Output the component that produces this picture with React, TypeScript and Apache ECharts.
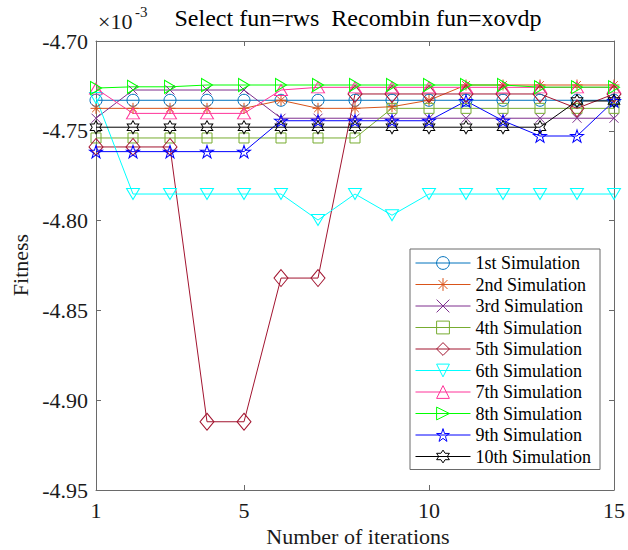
import { useEffect, useRef } from "react";
import * as echarts from "echarts";

// Iteration index on the horizontal axis
const iterations = [1, 2, 3, 4, 5, 6, 7, 8, 9, 10, 11, 12, 13, 14, 15];

// Best fitness per iteration, in units of 1e-3
const sim1 = [-4.733, -4.733, -4.733, -4.733, -4.733, -4.733, -4.733, -4.733, -4.733, -4.733, -4.733, -4.733, -4.733, -4.733, -4.733];
const sim2 = [-4.7375, -4.7375, -4.7375, -4.7375, -4.7375, -4.733, -4.7375, -4.7375, -4.7366, -4.733, -4.7245, -4.7245, -4.7245, -4.7245, -4.7245];
const sim3 = [-4.743, -4.7273, -4.7273, -4.7273, -4.7273, -4.743, -4.743, -4.743, -4.743, -4.743, -4.743, -4.743, -4.743, -4.743, -4.743];
const sim4 = [-4.754, -4.754, -4.754, -4.754, -4.754, -4.754, -4.754, -4.754, -4.7375, -4.7375, -4.7375, -4.7375, -4.7375, -4.7375, -4.7375];
const sim5 = [-4.759, -4.759, -4.759, -4.912, -4.912, -4.832, -4.832, -4.7295, -4.7295, -4.7295, -4.7295, -4.7295, -4.7295, -4.7375, -4.7295];
const sim6 = [-4.7317, -4.7852, -4.7852, -4.7852, -4.7852, -4.7852, -4.7997, -4.7852, -4.797, -4.7852, -4.7852, -4.7852, -4.7852, -4.7852, -4.7852];
const sim7 = [-4.7265, -4.7403, -4.7403, -4.7403, -4.7403, -4.7273, -4.7258, -4.7258, -4.7258, -4.7258, -4.7258, -4.7258, -4.7258, -4.7258, -4.7258];
const sim8 = [-4.7262, -4.7255, -4.7255, -4.7245, -4.7245, -4.7245, -4.7245, -4.7245, -4.7245, -4.7245, -4.7245, -4.7245, -4.7257, -4.7257, -4.7257];
const sim9 = [-4.7616, -4.7616, -4.7616, -4.7616, -4.7616, -4.7444, -4.7444, -4.7444, -4.7444, -4.7444, -4.7334, -4.7444, -4.7529, -4.7529, -4.7334];
const sim10 = [-4.748, -4.748, -4.748, -4.748, -4.748, -4.748, -4.748, -4.748, -4.748, -4.748, -4.748, -4.748, -4.748, -4.7334, -4.7334];

const seriesValues = [sim1, sim2, sim3, sim4, sim5, sim6, sim7, sim8, sim9, sim10];
const seriesNames = [
  "1st Simulation",
  "2nd Simulation",
  "3rd Simulation",
  "4th Simulation",
  "5th Simulation",
  "6th Simulation",
  "7th Simulation",
  "8th Simulation",
  "9th Simulation",
  "10th Simulation",
];

const xTicks = [1, 5, 10, 15];
const yTicks = [-4.95, -4.9, -4.85, -4.8, -4.75, -4.7];

const titleText = "Select fun=rws  Recombin fun=xovdp";
const xName = "Number of iterations";
const yName = "Fitness";

const SERIF = "Liberation Serif";
const AXIS = "#6a6a6a";
const TEXT = "#1a1a1a";

const colors = ["#0072BD", "#D95319", "#7E2F8E", "#77AC30", "#A2142F", "#00FFFF", "#FF3399", "#00FF00", "#0000FF", "#000000"];

// Marker shapes (hollow, outline only)
const ASTERISK = "path://M0,-1L0,1M-1,0L1,0M-0.7,-0.7L0.7,0.7M-0.7,0.7L0.7,-0.7";
const CROSS = "path://M-1,-1L1,1M-1,1L1,-1";
const TRI_DOWN = "path://M-1,-0.866L1,-0.866L0,0.866Z";
const TRI_RIGHT = "path://M-0.866,-1L0.866,0L-0.866,1Z";
const PENTAGRAM =
  "path://M0,-1L0.2245,-0.309L0.9511,-0.309L0.3633,0.118L0.5878,0.809L0,0.382L-0.5878,0.809L-0.3633,0.118L-0.9511,-0.309L-0.2245,-0.309Z";
const HEXAGRAM =
  "path://M0,-1L0.2887,-0.5L0.866,-0.5L0.577,0L0.866,0.5L0.2887,0.5L0,1L-0.2887,0.5L-0.866,0.5L-0.577,0L-0.866,-0.5L-0.2887,-0.5Z";

const symbols = ["circle", ASTERISK, CROSS, "rect", "diamond", TRI_DOWN, "triangle", TRI_RIGHT, PENTAGRAM, HEXAGRAM];
const symbolSizes: (number | number[])[] = [12, 11, 9, 10, [14, 17], [13, 11], [13, 11], [11, 13], [13, 12.4], [11.5, 13]];

export default function App() {
  const ref = useRef<HTMLDivElement>(null);

  useEffect(() => {
    if (!ref.current) return;
    const chart = echarts.init(ref.current, null, { renderer: "svg" });

    const axisCommon = {
      type: "value" as const,
      axisLine: { show: true, onZero: false, lineStyle: { color: AXIS, width: 1 } },
      splitLine: { show: false },
    };

    const series = seriesValues.map((vals, i) => ({
      type: "line" as const,
      name: seriesNames[i],
      data: iterations.map((x, j) => [x, vals[j]]),
      xAxisIndex: 0,
      yAxisIndex: 0,
      symbol: symbols[i],
      symbolSize: symbolSizes[i],
      showAllSymbol: true,
      lineStyle: { color: colors[i], width: 1 },
      itemStyle: { color: "rgba(0,0,0,0)", borderColor: colors[i], borderWidth: 1 },
      emphasis: { disabled: true },
      clip: false,
    }));

    chart.setOption({
      animation: false,
      backgroundColor: "#ffffff",
      textStyle: { fontFamily: SERIF },
      grid: { left: 96, top: 41, width: 524, height: 449, show: false },
      xAxis: [
        {
          ...axisCommon,
          min: 1,
          max: 15,
          position: "bottom",
          axisTick: { show: true, inside: true, length: 5, customValues: xTicks, lineStyle: { color: AXIS } },
          axisLabel: { customValues: xTicks, fontFamily: SERIF, fontSize: 22, color: TEXT, margin: 9 },
        },
        {
          ...axisCommon,
          min: 1,
          max: 15,
          position: "top",
          axisTick: { show: true, inside: true, length: 5, customValues: xTicks, lineStyle: { color: AXIS } },
          axisLabel: { show: false },
        },
      ],
      yAxis: [
        {
          ...axisCommon,
          min: -4.95,
          max: -4.7,
          position: "left",
          axisTick: { show: true, inside: true, length: 5, customValues: yTicks, lineStyle: { color: AXIS } },
          axisLabel: {
            customValues: yTicks,
            fontFamily: SERIF,
            fontSize: 22,
            color: TEXT,
            margin: 8,
            formatter: (v: number) => v.toFixed(2),
          },
        },
        {
          ...axisCommon,
          min: -4.95,
          max: -4.7,
          position: "right",
          axisTick: { show: true, inside: true, length: 5, customValues: yTicks, lineStyle: { color: AXIS } },
          axisLabel: { show: false },
        },
      ],
      legend: {
        orient: "vertical",
        left: 410,
        top: 249,
        itemWidth: 55,
        itemHeight: 16,
        itemGap: 1.5,
        padding: [4, 9, 3, 5],
        backgroundColor: "#ffffff",
        borderColor: AXIS,
        borderWidth: 1,
        selectedMode: false,
        textStyle: { fontFamily: SERIF, fontSize: 18, color: "#000", lineHeight: 20 },
        itemStyle: { borderWidth: 1 },
        lineStyle: { width: 1 },
        data: seriesNames,
      },
      graphic: [
        {
          type: "text",
          x: 358,
          y: 18,
          style: { text: titleText, fontFamily: SERIF, fontSize: 24, fill: "#000", align: "center", verticalAlign: "middle", textAlign: "center", textVerticalAlign: "middle" },
        },
        {
          type: "text",
          x: 98,
          y: 21,
          style: { text: "×10", fontFamily: SERIF, fontSize: 22, fill: TEXT, align: "left", verticalAlign: "middle", textAlign: "left", textVerticalAlign: "middle" },
        },
        {
          type: "text",
          x: 135,
          y: 12,
          style: { text: "-3", fontFamily: SERIF, fontSize: 15, fill: TEXT, align: "left", verticalAlign: "middle", textAlign: "left", textVerticalAlign: "middle" },
        },
        {
          type: "text",
          x: 358,
          y: 536,
          style: { text: xName, fontFamily: SERIF, fontSize: 22, fill: TEXT, align: "center", verticalAlign: "middle", textAlign: "center", textVerticalAlign: "middle" },
        },
        {
          type: "text",
          x: 20,
          y: 265,
          rotation: Math.PI / 2,
          style: { text: yName, fontFamily: SERIF, fontSize: 22, fill: TEXT, align: "center", verticalAlign: "middle", textAlign: "center", textVerticalAlign: "middle" },
        },
      ],
      series,
    });

    return () => chart.dispose();
  }, []);

  return <div ref={ref} style={{ position: "absolute", left: 0, top: 0, width: 628, height: 550 }} />;
}
